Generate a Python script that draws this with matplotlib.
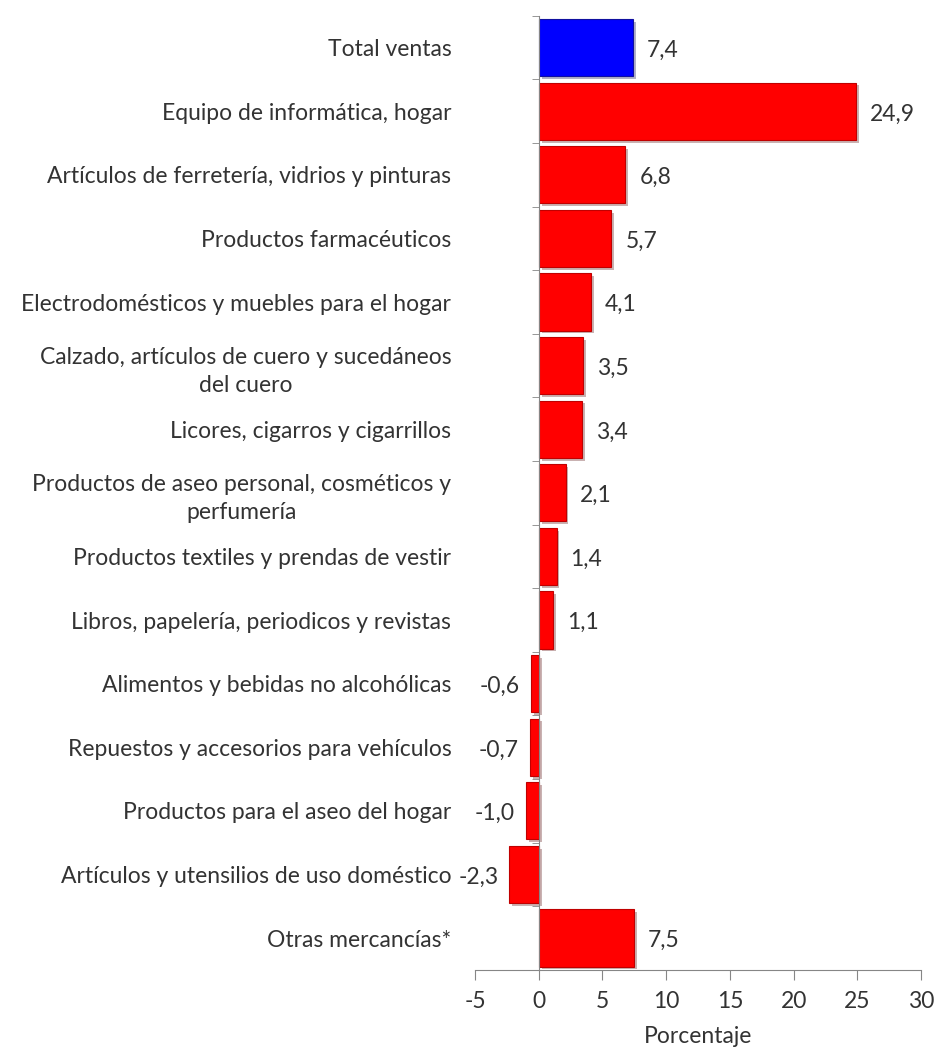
import numpy as np
import matplotlib.pyplot as plt
import matplotlib.patheffects as pe

# datos
categorias = [
    'Total ventas',
    'Equipo de informática, hogar',
    'Artículos de ferretería, vidrios y pinturas',
    'Productos farmacéuticos',
    'Electrodomésticos y muebles para el hogar',
    'Calzado, artículos de cuero y sucedáneos\ndel cuero',
    'Licores, cigarros y cigarrillos',
    'Productos de aseo personal, cosméticos y\nperfumería',
    'Productos textiles y prendas de vestir',
    'Libros, papelería, periodicos y revistas',
    'Alimentos y bebidas no alcohólicas',
    'Repuestos y accesorios para vehículos',
    'Productos para el aseo del hogar',
    'Artículos y utensilios de uso doméstico',
    'Otras mercancías*',
]
valores = [7.4, 24.9, 6.8, 5.7, 4.1, 3.5, 3.4, 2.1, 1.4, 1.1, -0.6, -0.7, -1.0, -2.3, 7.5]
x_ticks = [-5, 0, 5, 10, 15, 20, 25, 30]

plt.rcParams['font.family'] = ['Lato', 'DejaVu Sans']
text_color = '#333333'
axis_color = '#868686'
fs = 16.5

fig = plt.figure(figsize=(9.37, 10.53), dpi=100)
ax = fig.add_axes([0.507, 0.079, 0.476, 0.906])

# el eje vertical pasa por x = 0 (hay que fijarlo antes de las etiquetas)
ax.spines['left'].set_position(('data', 0))
ax.spines['top'].set_visible(False)
ax.spines['right'].set_visible(False)
ax.spines['left'].set_color(axis_color)
ax.spines['bottom'].set_color(axis_color)

y = np.arange(len(categorias))
colores = ['#0000FF'] + ['#FF0000'] * (len(categorias) - 1)
bordes = ['#1010A0'] + ['#C00000'] * (len(categorias) - 1)
barras = ax.barh(y, valores, height=0.9, color=colores, edgecolor=bordes, linewidth=0.8)
for b in barras:
    b.set_path_effects([pe.SimplePatchShadow(offset=(2, -2), alpha=0.3), pe.Normal()])

# etiquetas de valor
for yi, v in zip(y, valores):
    txt = f'{v:.1f}'.replace('.', ',')
    if v >= 0:
        ax.annotate(txt, (v, yi), xytext=(10, -2), textcoords='offset points',
                    ha='left', va='center', fontsize=fs, color=text_color)
    else:
        ax.annotate(txt, (v, yi), xytext=(-8, -2), textcoords='offset points',
                    ha='right', va='center', fontsize=fs, color=text_color)

ax.set_xlim(-5, 30)
ax.set_ylim(len(categorias) - 0.5, -0.5)
ax.set_xticks(x_ticks)
ax.set_xticklabels([str(t) for t in x_ticks], fontsize=fs, color=text_color)
ax.set_yticks(y)
ax.set_yticklabels(categorias, fontsize=fs, color=text_color)
for lbl in ax.get_yticklabels():
    lbl.set_multialignment('center')
    lbl.set_linespacing(1.45)
ax.set_yticks(np.arange(len(categorias) + 1) - 0.5, minor=True)

ax.tick_params(axis='y', which='major', length=0, pad=63)
ax.tick_params(axis='y', which='minor', length=5, color=axis_color, direction='out')
ax.tick_params(axis='x', length=7, color=axis_color, pad=8)

ax.set_xlabel('Porcentaje', fontsize=fs, color=text_color, labelpad=10)

fig.savefig('out.png', dpi=100)
